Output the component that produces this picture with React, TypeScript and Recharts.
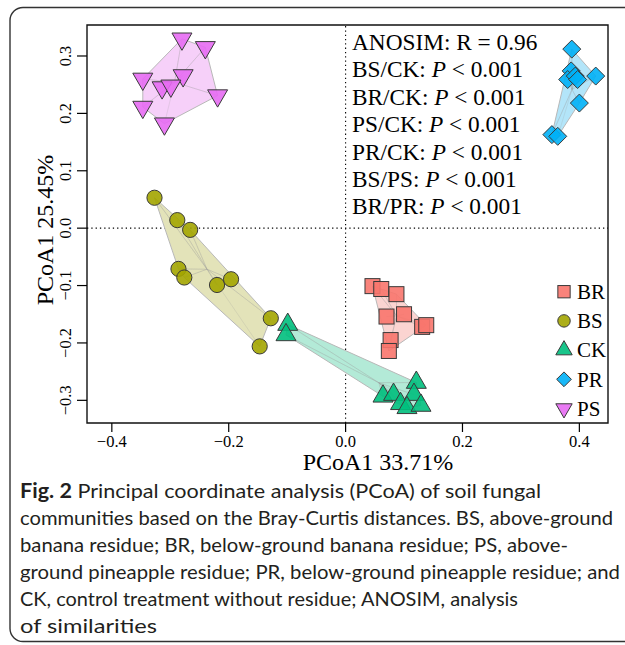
import React from "react";
import { ScatterChart, Scatter, XAxis, YAxis, ReferenceLine, ReferenceArea } from "recharts";

// PCoA scores
const brX = [0.046, 0.061, 0.087, 0.07, 0.1, 0.131, 0.138, 0.077, 0.074];
const brY = [-0.101, -0.106, -0.115, -0.154, -0.15, -0.172, -0.169, -0.195, -0.214];
const bsX = [-0.327, -0.288, -0.266, -0.286, -0.276, -0.22, -0.196, -0.128, -0.147];
const bsY = [0.053, 0.014, -0.003, -0.071, -0.086, -0.099, -0.089, -0.157, -0.206];
const ckX = [-0.099, -0.102, 0.064, 0.082, 0.121, 0.117, 0.094, 0.105, 0.129];
const ckY = [-0.168, -0.186, -0.293, -0.29, -0.269, -0.29, -0.306, -0.313, -0.309];
const prX = [0.387, 0.386, 0.38, 0.393, 0.397, 0.428, 0.4, 0.353, 0.363];
const prY = [0.312, 0.274, 0.259, 0.265, 0.259, 0.265, 0.218, 0.163, 0.16];
const psX = [-0.28, -0.24, -0.347, -0.278, -0.314, -0.299, -0.219, -0.347, -0.31];
const psY = [0.33, 0.315, 0.26, 0.266, 0.245, 0.248, 0.231, 0.211, 0.182];

const groups = ["BR", "BS", "CK", "PR", "PS"];
const colors = ["#F8766D", "#A3A500", "#00BF7D", "#00B0F6", "#E76BF3"];
const hullColors = ["#FBD4D1", "#E3E3B9", "#B3EAD7", "#B3E5F9", "#F6D0F9"];
const xTicks = [-0.4, -0.2, 0, 0.2, 0.4];
const yTicks = [-0.3, -0.2, -0.1, 0, 0.1, 0.2, 0.3];
const stats = ["BS/CK", "BR/CK", "PS/CK", "PR/CK", "BS/PS", "BR/PR"];
const captionLines = [
  "Principal coordinate analysis (PCoA) of soil fungal",
  "communities based on the Bray-Curtis distances. BS, above-ground",
  "banana residue; BR, below-ground banana residue; PS, above-",
  "ground pineapple residue; PR, below-ground pineapple residue; and",
  "CK, control treatment without residue; ANOSIM, analysis",
  "of similarities",
];
const captionWidths = [521, 593, 548, 600, 498, 137];

const serif = "'Liberation Serif', 'Times New Roman', serif";
const sans = "Lato, 'Open Sans', sans-serif";

const toPts = (xs: number[], ys: number[]) => xs.map((x, i) => ({ x, y: ys[i] }));
const groupData = [toPts(brX, brY), toPts(bsX, bsY), toPts(ckX, ckY), toPts(prX, prY), toPts(psX, psY)];

function hull(pts: { x: number; y: number }[]) {
  const p = [...pts].sort((a, b) => a.x - b.x || a.y - b.y);
  const cross = (o: any, a: any, b: any) => (a.x - o.x) * (b.y - o.y) - (a.y - o.y) * (b.x - o.x);
  const lower: any[] = [];
  for (const q of p) {
    while (lower.length >= 2 && cross(lower[lower.length - 2], lower[lower.length - 1], q) <= 0) lower.pop();
    lower.push(q);
  }
  const upper: any[] = [];
  for (const q of [...p].reverse()) {
    while (upper.length >= 2 && cross(upper[upper.length - 2], upper[upper.length - 1], q) <= 0) upper.pop();
    upper.push(q);
  }
  return lower.slice(0, -1).concat(upper.slice(0, -1));
}

// point -> group centroid segments
function spider(pts: { x: number; y: number }[]) {
  const c = {
    x: pts.reduce((s, p) => s + p.x, 0) / pts.length,
    y: pts.reduce((s, p) => s + p.y, 0) / pts.length,
  };
  return pts.flatMap((p) => [c, p]);
}

const fmt = (v: number) => (v < 0 ? "\u2212" : "") + Math.abs(v).toFixed(1);

function Marker({ kind, cx, cy, fill, s = 1 }: any) {
  const st = { fill, stroke: "#3a3a3a", strokeWidth: 1, fillOpacity: 0.9 };
  if (kind === 0) {
    const h = 7.5 * s;
    return <rect x={cx - h} y={cy - h} width={2 * h} height={2 * h} {...st} />;
  }
  if (kind === 1) return <circle cx={cx} cy={cy} r={7.6 * s} {...st} />;
  if (kind === 3) {
    const d = 9 * s;
    return <polygon points={`${cx},${cy - d} ${cx + d},${cy} ${cx},${cy + d} ${cx - d},${cy}`} {...st} />;
  }
  const side = 20 * s;
  const h = side * 0.866;
  const dir = kind === 2 ? 1 : -1;
  return (
    <polygon
      points={`${cx},${cy - (dir * 2 * h) / 3} ${cx + side / 2},${cy + (dir * h) / 3} ${cx - side / 2},${cy + (dir * h) / 3}`}
      {...st}
    />
  );
}

const YTick = ({ x, y, payload }: any) => (
  <text x={x} y={y} transform={`rotate(-90 ${x} ${y})`} textAnchor="middle" fontFamily={serif} fontSize={16.5} fill="#000">
    {fmt(payload.value)}
  </text>
);

export default function App() {
  return (
    <div style={{ position: "absolute", left: 0, top: 0, width: 625, height: 645, background: "#fff", overflow: "hidden" }}>
      <ScatterChart width={625} height={645} margin={{ top: 25, right: 17, left: 10, bottom: 182 }}>
        <XAxis
          type="number"
          dataKey="x"
          domain={[-0.4425, 0.449]}
          ticks={xTicks}
          allowDataOverflow
          height={40}
          axisLine={false}
          tickLine={{ stroke: "#000", strokeWidth: 1.2 }}
          tickSize={9}
          tickMargin={3}
          tickFormatter={fmt}
          tick={{ fontFamily: serif, fontSize: 16.5, fill: "#000" }}
        />
        <YAxis
          type="number"
          dataKey="y"
          domain={[-0.3395, 0.354]}
          ticks={yTicks}
          allowDataOverflow
          width={77}
          axisLine={false}
          tickLine={{ stroke: "#000", strokeWidth: 1.2 }}
          tickSize={10}
          tickMargin={6}
          tick={<YTick />}
        />
        <ReferenceLine x={0} stroke="#000" strokeDasharray="1.3 3" strokeWidth={1.1} />
        <ReferenceLine y={0} stroke="#000" strokeDasharray="1.3 3" strokeWidth={1.1} />
        {groupData.map((pts, i) => (
          <Scatter
            key={"hull" + i}
            data={hull(pts)}
            isAnimationActive={false}
            shape={() => <g />}
            line={(lp: any) => (
              <polygon
                points={lp.points.map((p: any) => `${p.x},${p.y}`).join(" ")}
                fill={hullColors[i]}
                stroke="#b8b8b8"
                strokeWidth={1}
              />
            )}
          />
        ))}
        {groupData.map((pts, i) => (
          <Scatter
            key={"spider" + i}
            data={spider(pts)}
            isAnimationActive={false}
            shape={() => <g />}
            line={{ stroke: "#9a9a9a", strokeWidth: 0.6, strokeOpacity: 0.35 }}
          />
        ))}
        {groupData.map((pts, i) => (
          <Scatter
            key={groups[i]}
            name={groups[i]}
            data={pts}
            isAnimationActive={false}
            shape={(p: any) => <Marker kind={i} cx={p.cx} cy={p.cy} fill={colors[i]} />}
          />
        ))}
        <ReferenceArea x1={-0.4425} x2={0.449} y1={-0.3395} y2={0.354} fill="none" stroke="#111" strokeWidth={1.4} />
      </ScatterChart>
      <svg width={625} height={645} style={{ position: "absolute", left: 0, top: 0, pointerEvents: "none" }}>
        <rect x={10} y={7.5} width={640} height={634} rx={13} fill="none" stroke="#333" strokeWidth={1.4} />
        <g fontFamily={serif} fontSize={23.3} fill="#000">
          <text x={352} y={50}>ANOSIM: R = 0.96</text>
          {stats.map((s, i) => (
            <text key={s} x={352} y={77.4 + i * 27.4}>
              {s}: <tspan fontStyle="italic">P</tspan> {"< 0.001"}
            </text>
          ))}
        </g>
        <g fontFamily={serif} fontSize={21} fill="#000">
          {groups.map((g, i) => (
            <g key={g}>
              <Marker kind={i} cx={564} cy={291.7 + i * 29.2} fill={colors[i]} s={0.82} />
              <text x={577} y={299 + i * 29.2}>{g}</text>
            </g>
          ))}
        </g>
        <text x={378} y={470} textAnchor="middle" fontFamily={serif} fontSize={24}>PCoA1 33.71%</text>
        <text x={53} y={230} textAnchor="middle" transform="rotate(-90 53 230)" fontFamily={serif} fontSize={24}>
          PCoA1 25.45%
        </text>
        <g fontFamily={sans} fontSize={20} fill="#231f20">
          {captionLines.map((l, i) => (
            <text key={i} x={20} y={498 + i * 27} textLength={captionWidths[i]} lengthAdjust="spacingAndGlyphs">
              {i === 0 ? (
                <>
                  <tspan fontWeight="bold">Fig. 2</tspan> {l}
                </>
              ) : (
                l
              )}
            </text>
          ))}
        </g>
      </svg>
    </div>
  );
}
